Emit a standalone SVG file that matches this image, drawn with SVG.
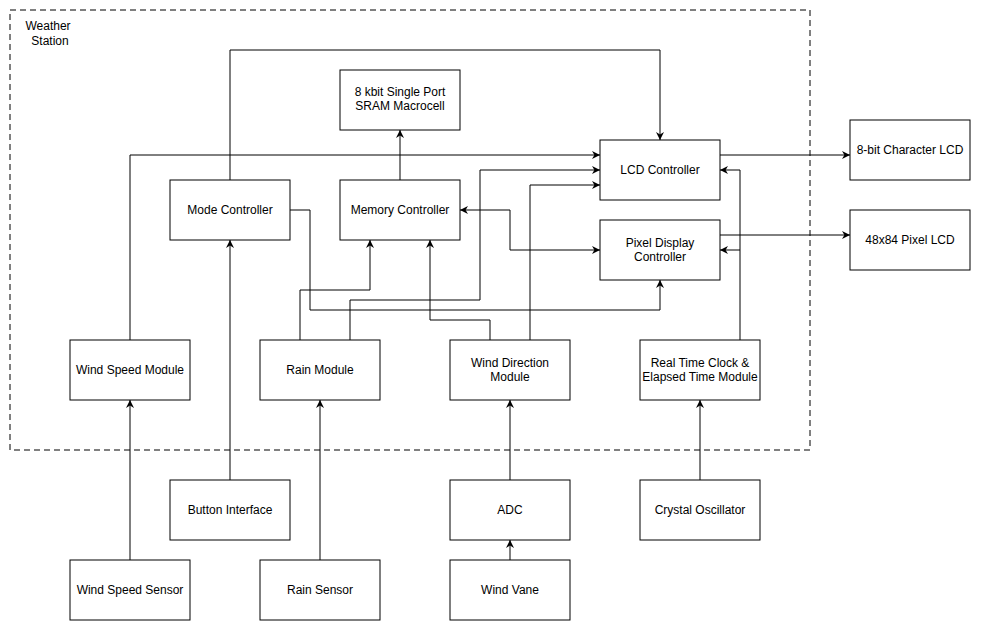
<svg xmlns="http://www.w3.org/2000/svg" width="981" height="631" viewBox="0 0 981 631">
<style>
.b{fill:#fff;stroke:#000;stroke-width:1}
text{font-family:"Liberation Sans",Arial,sans-serif;font-size:12px;fill:#000;text-anchor:middle}
.c path{fill:none;stroke:#000;stroke-width:1}
</style>
<defs>
<marker id="a" viewBox="0 0 10 10" refX="10" refY="5" markerWidth="8" markerHeight="8" orient="auto-start-reverse" markerUnits="userSpaceOnUse"><path d="M0,0 L10,5 L0,10 L3,5 Z" fill="#000"/></marker>
</defs>
<rect width="981" height="631" fill="#fff"/>
<g id="weather-station"><rect x="10" y="10" width="800" height="440" fill="none" stroke="#000" stroke-dasharray="6,4"/><text x="48" y="30">Weather</text><text x="50" y="45">Station</text></g>
<g class="c">
<path d="M230,180 V50 H660 V140" marker-end="url(#a)"/>
<path d="M400,180 V130" marker-end="url(#a)"/>
<path d="M130,340 V155 H600" marker-end="url(#a)"/>
<path d="M350,340 V300 H480 V170 H600" marker-end="url(#a)"/>
<path d="M300,340 V290 H370 V240" marker-end="url(#a)"/>
<path d="M530,340 V185 H600" marker-end="url(#a)"/>
<path d="M490,340 V320 H430 V240" marker-end="url(#a)"/>
<path d="M290,210 H310 V310 H660 V280" marker-end="url(#a)"/>
<path d="M460,210 H510 V250 H600" marker-start="url(#a)" marker-end="url(#a)"/>
<path d="M740,340 V170 H720" marker-end="url(#a)"/>
<path d="M740,250 H720" marker-end="url(#a)"/>
<path d="M720,155 H850" marker-end="url(#a)"/>
<path d="M720,235 H850" marker-end="url(#a)"/>
<path d="M130,560 V400" marker-end="url(#a)"/>
<path d="M230,480 V240" marker-end="url(#a)"/>
<path d="M320,560 V400" marker-end="url(#a)"/>
<path d="M510,480 V400" marker-end="url(#a)"/>
<path d="M510,560 V540" marker-end="url(#a)"/>
<path d="M700,480 V400" marker-end="url(#a)"/>
</g>
<g id="sram"><rect class="b" x="340" y="70" width="120" height="60"/><text x="400" y="96">8 kbit Single Port</text><text x="400" y="110">SRAM Macrocell</text></g>
<g id="lcd-controller"><rect class="b" x="600" y="140" width="120" height="60"/><text x="660" y="174">LCD Controller</text></g>
<g id="pixel-controller"><rect class="b" x="600" y="220" width="120" height="60"/><text x="660" y="247">Pixel Display</text><text x="660" y="261">Controller</text></g>
<g id="mode-controller"><rect class="b" x="170" y="180" width="120" height="60"/><text x="230" y="214">Mode Controller</text></g>
<g id="memory-controller"><rect class="b" x="340" y="180" width="120" height="60"/><text x="400" y="214">Memory Controller</text></g>
<g id="char-lcd"><rect class="b" x="850" y="120" width="120" height="60"/><text x="910" y="154">8-bit Character LCD</text></g>
<g id="pixel-lcd"><rect class="b" x="850" y="210" width="120" height="60"/><text x="910" y="244">48x84 Pixel LCD</text></g>
<g id="wind-speed-module"><rect class="b" x="70" y="340" width="120" height="60"/><text x="130" y="374">Wind Speed Module</text></g>
<g id="rain-module"><rect class="b" x="260" y="340" width="120" height="60"/><text x="320" y="374">Rain Module</text></g>
<g id="wind-direction-module"><rect class="b" x="450" y="340" width="120" height="60"/><text x="510" y="367">Wind Direction</text><text x="510" y="381">Module</text></g>
<g id="rtc"><rect class="b" x="640" y="340" width="120" height="60"/><text x="700" y="367">Real Time Clock &amp;</text><text x="700" y="381">Elapsed Time Module</text></g>
<g id="button-interface"><rect class="b" x="170" y="480" width="120" height="60"/><text x="230" y="514">Button Interface</text></g>
<g id="adc"><rect class="b" x="450" y="480" width="120" height="60"/><text x="510" y="514">ADC</text></g>
<g id="crystal"><rect class="b" x="640" y="480" width="120" height="60"/><text x="700" y="514">Crystal Oscillator</text></g>
<g id="wind-speed-sensor"><rect class="b" x="70" y="560" width="120" height="60"/><text x="130" y="594">Wind Speed Sensor</text></g>
<g id="rain-sensor"><rect class="b" x="260" y="560" width="120" height="60"/><text x="320" y="594">Rain Sensor</text></g>
<g id="wind-vane"><rect class="b" x="450" y="560" width="120" height="60"/><text x="510" y="594">Wind Vane</text></g>
</svg>
